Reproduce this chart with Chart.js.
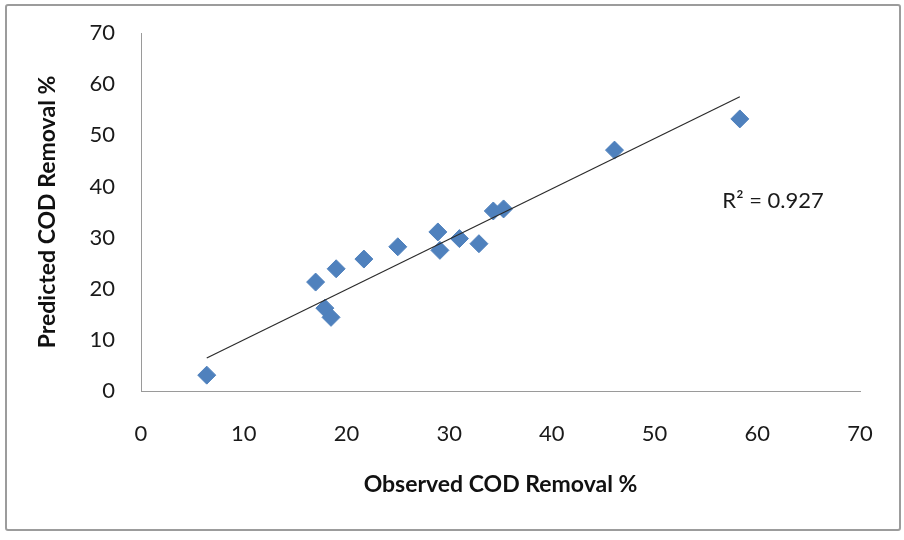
<!DOCTYPE html>
<html>
<head>
<meta charset="utf-8">
<script src="https://cdn.jsdelivr.net/npm/chart.js@4.4.1/dist/chart.umd.min.js"></script>
<style>
  html, body { margin: 0; padding: 0; background: #fff; }
  #wrap { position: relative; width: 904px; height: 540px; }
  #frame { position: absolute; left: 5px; top: 4px; width: 896px; height: 527px; box-sizing: border-box;
           border: 2px solid #9c9c9c; border-radius: 3px; pointer-events: none; }
</style>
</head>
<body>
<div id="wrap">
  <canvas id="codChart" width="904" height="540"></canvas>
  <div id="frame"></div>
</div>
<script>
//Observed vs predicted COD removal
const observed  = [6.4, 17.0, 19.0, 17.9, 18.5, 21.7, 25.0, 28.9, 29.1, 31.0, 32.9, 34.3, 35.3, 46.1, 58.3];
const predicted = [3.1, 21.3, 23.9, 16.2, 14.4, 25.8, 28.2, 31.1, 27.5, 29.8, 28.8, 35.2, 35.6, 47.1, 53.2];

//end points of the linear trendline
const trendX = [6.4, 58.3];
const trendY = [6.45, 57.55];

//tick labels for both axes
const axisTicks = [0, 10, 20, 30, 40, 50, 60, 70];

const rSquaredText = 'R\u00B2 = 0.927';
//where the R2 label sits (data units)
const rSquaredAt = { x: 56.6, y: 37.2 };

//draws the R2 text next to the trendline
const rSquaredPlugin = {
    id: 'rSquared',
    afterDatasetsDraw(chart) {
        const ctx = chart.ctx;
        const px = chart.scales.x.getPixelForValue(rSquaredAt.x);
        const py = chart.scales.y.getPixelForValue(rSquaredAt.y);
        ctx.save();
        ctx.font = '22px Lato';
        ctx.fillStyle = '#1a1a1a';
        ctx.textAlign = 'left';
        ctx.textBaseline = 'middle';
        ctx.fillText(rSquaredText, px, py);
        ctx.restore();
    }
};

function useTicks(scale) {
    scale.ticks = axisTicks.map(v => ({ value: v }));
}

function drawChart() {
    Chart.defaults.font.family = 'Lato';
    Chart.defaults.color = '#1a1a1a';

    const points = observed.map((o, i) => ({ x: o, y: predicted[i] }));
    const trend = trendX.map((t, i) => ({ x: t, y: trendY[i] }));

    const ctx = document.getElementById('codChart').getContext('2d');

    new Chart(ctx, {
        type: 'scatter',
        data: {
            datasets: [
                {
                    data: points,
                    pointStyle: 'rectRot',
                    pointRadius: 9,
                    pointBorderWidth: 1,
                    backgroundColor: '#4F81BD',
                    borderColor: '#4F81BD',
                    order: 2
                },
                {
                    type: 'line',
                    data: trend,
                    borderColor: '#2b2b2b',
                    borderWidth: 1.2,
                    pointRadius: 0,
                    fill: false,
                    order: 1
                }
            ]
        },
        options: {
            responsive: false,
            animation: false,
            devicePixelRatio: 1,
            layout: { padding: { left: 0, right: 44, top: 33, bottom: 0 } },
            plugins: {
                legend: { display: false },
                tooltip: { enabled: false }
            },
            scales: {
                x: {
                    type: 'linear',
                    min: 0,
                    max: 70,
                    afterBuildTicks: useTicks,
                    afterFit: s => { s.height = 149; },
                    grid: { display: false, drawTicks: false },
                    border: { display: true, color: '#9a9a9a', width: 1 },
                    ticks: { padding: 30, font: { size: 22 } },
                    title: {
                        display: true,
                        text: 'Observed COD Removal %',
                        font: { size: 23, weight: 'bold' },
                        color: '#111',
                        padding: { top: 0, bottom: 42 }
                    }
                },
                y: {
                    type: 'linear',
                    min: 0,
                    max: 70,
                    afterBuildTicks: useTicks,
                    //fixed width, and no extra room above the top label
                    afterFit: s => { s.width = 141; s.paddingTop = 0; s.paddingBottom = 0; },
                    grid: { display: false, drawTicks: false },
                    border: { display: true, color: '#9a9a9a', width: 1 },
                    ticks: { padding: 26, font: { size: 22 } },
                    title: {
                        display: true,
                        text: 'Predicted COD Removal %',
                        font: { size: 23, weight: 'bold' },
                        color: '#111',
                        padding: { top: 34, bottom: 0 }
                    }
                }
            }
        },
        plugins: [rSquaredPlugin]
    });
}

//make sure Lato is ready before the canvas text is drawn
Promise.all([document.fonts.load('22px Lato'), document.fonts.load('bold 23px Lato')])
    .then(drawChart, drawChart);
</script>
</body>
</html>
